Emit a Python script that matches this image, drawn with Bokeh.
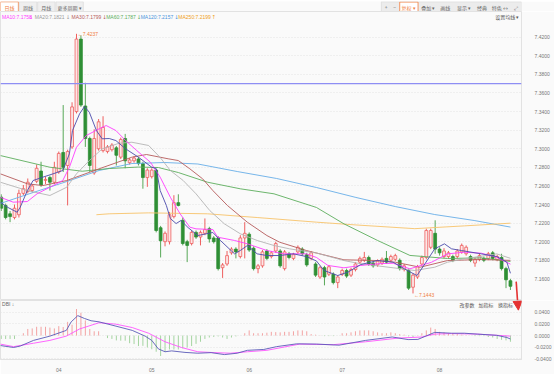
from bokeh.plotting import figure
from bokeh.layouts import column
from bokeh.models import (Range1d, FixedTicker, NumeralTickFormatter, Span, Label,
                          Arrow, NormalHead, ColumnDataSource)
from bokeh.embed import file_html
from bokeh.resources import INLINE

# ---------------- data ----------------
opens = [7.248, 7.239, 7.230, 7.226, 7.229, 7.252, 7.254, 7.255, 7.265, 7.276,
         7.266, 7.269, 7.264, 7.275, 7.296, 7.282, 7.302, 7.340, 7.418, 7.346,
         7.311, 7.274, 7.300, 7.298, 7.297, 7.299, 7.301, 7.291, 7.311, 7.285,
         7.287, 7.289, 7.284, 7.269, 7.270, 7.277, 7.215, 7.200, 7.200, 7.227,
         7.242, 7.223, 7.200, 7.198, 7.210, 7.205, 7.209, 7.214, 7.204, 7.204,
         7.172, 7.176, 7.188, 7.192, 7.184, 7.204, 7.208, 7.193, 7.171, 7.174,
         7.190, 7.184, 7.190, 7.190, 7.171, 7.187, 7.182, 7.189, 7.192, 7.186,
         7.182, 7.176, 7.162, 7.172, 7.165, 7.165, 7.156, 7.165, 7.169, 7.164,
         7.170, 7.178, 7.180, 7.183, 7.177, 7.175, 7.177, 7.182, 7.180, 7.181,
         7.180, 7.170, 7.169, 7.151, 7.162, 7.176, 7.183, 7.194, 7.209, 7.192,
         7.184, 7.184, 7.184, 7.184, 7.189, 7.187, 7.184, 7.177, 7.181, 7.182,
         7.182, 7.188, 7.181, 7.183, 7.171, 7.158]
highs = [7.251, 7.241, 7.233, 7.240, 7.256, 7.261, 7.268, 7.262, 7.283, 7.286,
         7.270, 7.271, 7.286, 7.297, 7.347, 7.299, 7.350, 7.4237, 7.422, 7.371,
         7.313, 7.321, 7.332, 7.335, 7.304, 7.306, 7.303, 7.312, 7.316, 7.290,
         7.292, 7.291, 7.286, 7.279, 7.279, 7.278, 7.217, 7.211, 7.232, 7.250,
         7.251, 7.226, 7.202, 7.212, 7.212, 7.212, 7.225, 7.216, 7.206, 7.206,
         7.177, 7.190, 7.194, 7.194, 7.207, 7.221, 7.210, 7.195, 7.176, 7.191,
         7.192, 7.190, 7.200, 7.192, 7.191, 7.189, 7.188, 7.196, 7.194, 7.188,
         7.190, 7.178, 7.174, 7.174, 7.175, 7.167, 7.164, 7.171, 7.171, 7.172,
         7.178, 7.184, 7.189, 7.185, 7.179, 7.181, 7.183, 7.190, 7.186, 7.187,
         7.182, 7.176, 7.171, 7.166, 7.175, 7.185, 7.214, 7.214, 7.223, 7.194,
         7.193, 7.190, 7.186, 7.192, 7.198, 7.196, 7.186, 7.183, 7.187, 7.184,
         7.189, 7.190, 7.186, 7.187, 7.173, 7.160]
lows = [7.233, 7.224, 7.221, 7.224, 7.226, 7.250, 7.252, 7.253, 7.263, 7.259,
        7.262, 7.255, 7.262, 7.273, 7.275, 7.239, 7.300, 7.338, 7.345, 7.302,
        7.275, 7.272, 7.298, 7.296, 7.295, 7.297, 7.282, 7.289, 7.279, 7.283,
        7.285, 7.282, 7.257, 7.259, 7.268, 7.210, 7.183, 7.195, 7.197, 7.225,
        7.238, 7.196, 7.178, 7.196, 7.203, 7.196, 7.207, 7.199, 7.198, 7.169,
        7.161, 7.174, 7.186, 7.182, 7.182, 7.182, 7.189, 7.169, 7.166, 7.172,
        7.180, 7.182, 7.188, 7.172, 7.169, 7.181, 7.180, 7.187, 7.185, 7.173,
        7.180, 7.162, 7.160, 7.153, 7.163, 7.154, 7.150, 7.163, 7.161, 7.162,
        7.168, 7.176, 7.178, 7.174, 7.172, 7.173, 7.175, 7.176, 7.178, 7.179,
        7.169, 7.168, 7.148, 7.1443, 7.160, 7.174, 7.181, 7.192, 7.187, 7.185,
        7.182, 7.182, 7.178, 7.182, 7.187, 7.185, 7.178, 7.173, 7.179, 7.178,
        7.180, 7.180, 7.179, 7.169, 7.150, 7.148]
closes = [7.236, 7.226, 7.227, 7.236, 7.252, 7.257, 7.264, 7.260, 7.279, 7.261,
          7.267, 7.264, 7.280, 7.295, 7.280, 7.297, 7.345, 7.418, 7.347, 7.311,
          7.282, 7.311, 7.329, 7.323, 7.302, 7.304, 7.293, 7.310, 7.287, 7.288,
          7.290, 7.284, 7.269, 7.277, 7.277, 7.212, 7.201, 7.209, 7.229, 7.242,
          7.239, 7.198, 7.196, 7.210, 7.205, 7.210, 7.213, 7.203, 7.200, 7.171,
          7.175, 7.185, 7.192, 7.189, 7.204, 7.209, 7.191, 7.171, 7.174, 7.189,
          7.182, 7.188, 7.198, 7.174, 7.189, 7.183, 7.186, 7.194, 7.187, 7.175,
          7.188, 7.164, 7.172, 7.162, 7.173, 7.156, 7.162, 7.169, 7.163, 7.170,
          7.176, 7.182, 7.183, 7.176, 7.174, 7.179, 7.181, 7.178, 7.184, 7.185,
          7.171, 7.174, 7.150, 7.164, 7.173, 7.183, 7.212, 7.212, 7.192, 7.188,
          7.190, 7.188, 7.180, 7.190, 7.196, 7.194, 7.180, 7.181, 7.185, 7.180,
          7.187, 7.182, 7.184, 7.171, 7.159, 7.152]

ma5_x = [-0.2, 1.4, 3.6, 4.3, 5.9, 7.2, 9.4, 11.7, 13.9, 15.4, 16.1, 17.7, 18.8, 19.9,
         21.5, 22.8, 24.4, 25.9, 28.1, 31.0, 34.0, 35.0, 35.9, 37.3, 38.2, 39.5, 40.6,
         42.2, 44.4, 47.8, 49.5, 52.7, 54.0, 55.6, 57.8, 60.0, 62.9, 66.0, 68.9, 71.2,
         72.9, 76.0, 78.3, 81.2, 85.0, 88.5, 91.7, 93.9, 95.7, 97.9, 100.1, 101.7,
         103.9, 108.4, 111.9, 114.2, 115.0]
ma5_v = [7.2425, 7.2371, 7.2317, 7.2371, 7.2550, 7.2658, 7.2694, 7.2730, 7.2766,
         7.2945, 7.3196, 7.3376, 7.3454, 7.3393, 7.3196, 7.3107, 7.3110, 7.3088,
         7.2999, 7.2909, 7.2801, 7.2787, 7.2550, 7.2389, 7.2249, 7.2195, 7.2228,
         7.2152, 7.2066, 7.2099, 7.2013, 7.1869, 7.1905, 7.1959, 7.1869, 7.1851,
         7.1851, 7.1869, 7.1840, 7.1792, 7.1690, 7.1636, 7.1672, 7.1754, 7.1797,
         7.1779, 7.1690, 7.1636, 7.1762, 7.1923, 7.1977, 7.1923, 7.1905, 7.1869,
         7.1840, 7.1779, 7.1660]
ma10_x = [-0.2, 2.7, 5.9, 8.1, 11.0, 13.9, 15.4, 17.0, 19.2, 22.1, 23.7, 25.9, 28.1,
          30.6, 33.7, 35.9, 38.2, 40.4, 42.6, 44.0, 47.8, 48.9, 52.7, 55.6, 60.0, 63.8,
          68.9, 71.2, 73.8, 77.4, 81.2, 85.0, 88.5, 92.3, 97.2, 100.8, 104.6, 108.4,
          111.9, 115.0]
ma10_v = [7.2478, 7.2425, 7.2432, 7.2515, 7.2586, 7.2658, 7.2801, 7.3016, 7.3142,
          7.3214, 7.3250, 7.3196, 7.3088, 7.2981, 7.2855, 7.2694, 7.2478, 7.2300,
          7.2156, 7.2138, 7.2131, 7.2048, 7.2013, 7.1977, 7.1905, 7.1869, 7.1869,
          7.1830, 7.1744, 7.1719, 7.1744, 7.1762, 7.1768, 7.1708, 7.1779, 7.1869,
          7.1887, 7.1876, 7.1833, 7.1758]
ma20_x = [-0.2, 5.9, 11.0, 14.8, 17.0, 19.9, 22.8, 26.6, 29.5, 33.3, 35.9, 38.2, 41.1,
          44.0, 47.1, 50.4, 54.0, 57.8, 61.6, 65.1, 71.2, 77.4, 81.2, 88.5, 93.4, 97.9,
          100.8, 104.6, 111.9, 115.0]
ma20_v = [7.2640, 7.2550, 7.2497, 7.2586, 7.2730, 7.2873, 7.2999, 7.3059, 7.3070,
          7.3035, 7.2906, 7.2766, 7.2658, 7.2515, 7.2335, 7.2192, 7.2085, 7.2013,
          7.1959, 7.1923, 7.1878, 7.1797, 7.1762, 7.1719, 7.1690, 7.1725, 7.1779,
          7.1816, 7.1869, 7.1821]
ma30_x = [-0.2, 5.9, 9.4, 14.8, 22.1, 29.5, 32.8, 37.7, 40.0, 42.6, 45.5, 47.8, 51.1,
          55.6, 60.0, 62.9, 68.9, 77.4, 85.0, 89.0, 94.6, 100.8, 108.4, 115.0]
ma30_v = [7.2730, 7.2623, 7.2604, 7.2658, 7.2784, 7.2909, 7.2938, 7.2892, 7.2873,
          7.2784, 7.2676, 7.2550, 7.2389, 7.2209, 7.2066, 7.1994, 7.1905, 7.1805,
          7.1797, 7.1779, 7.1725, 7.1797, 7.1808, 7.1799]
ma60_x = [-0.2, 11.0, 18.3, 24.4, 31.0, 35.5, 40.0, 46.6, 54.0, 61.6, 71.2, 77.4, 85.0,
          92.3, 100.8, 108.4, 115.0]
ma60_v = [7.2927, 7.2801, 7.2758, 7.2787, 7.2803, 7.2798, 7.2744, 7.2640, 7.2569,
          7.2515, 7.2368, 7.2192, 7.2013, 7.1852, 7.1819, 7.1826, 7.1787]
ma120_x = [-0.2, 7.2, 14.8, 22.1, 29.5, 37.0, 44.4, 53.3, 62.2, 71.2, 80.1, 89.0, 97.9,
           106.8, 115.0]
ma120_v = [7.2411, 7.2529, 7.2647, 7.2766, 7.2841, 7.2852, 7.2836, 7.2755, 7.2680,
           7.2583, 7.2476, 7.2378, 7.2292, 7.2228, 7.2157]
ma250_x = [21.5, 24.4, 33.3, 46.6, 57.8, 71.2, 80.1, 93.4, 104.6, 115.0]
ma250_v = [7.229, 7.230, 7.231, 7.230, 7.226, 7.221, 7.218, 7.214, 7.217, 7.2199]

hist = [-0.0059, -0.0059, -0.0059, -0.0059, 0.0, 0.0040, 0.0114, 0.0123, 0.0152, 0.0152,
        0.0152, 0.0138, 0.0123, 0.0163, 0.0148, 0.0237, 0.0188, 0.0459, 0.0395, 0.0262,
        0.0114, 0.0074, 0.0074, 0.0, -0.0044, -0.0059, -0.0084, -0.0089, -0.0089, -0.0133,
        -0.0148, -0.0182, -0.0178, -0.0207, -0.0237, -0.0281, -0.0355, -0.0281, -0.0241, -0.0241,
        -0.0241, -0.0222, -0.0207, -0.0182, -0.0144, -0.0108, -0.0059, -0.0034, -0.0025, -0.0015,
        -0.0034, -0.0059, -0.0034, -0.0015, 0.0, 0.0040, 0.0089, 0.0040, 0.0040, 0.0040,
        0.0049, 0.0064, 0.0059, 0.0055, 0.0064, 0.0064, 0.0074, 0.0089, 0.0089, 0.0074,
        0.0025, 0.0015, 0.0004, -0.0010, -0.0010, -0.0010, 0.0, 0.0040, 0.0040, 0.0055,
        0.0074, 0.0089, 0.0089, 0.0089, 0.0074, 0.0055, 0.0040, 0.0040, 0.0055, 0.0040,
        0.0025, 0.0015, -0.0015, -0.0025, 0.0004, 0.0040, 0.0089, 0.0138, 0.0114, 0.0064,
        0.0055, 0.0040, 0.0030, 0.0025, 0.0015, 0.0004, 0.0, -0.0010, -0.0010, -0.0010,
        -0.0025, -0.0034, -0.0059, -0.0074, -0.0084, -0.0108]
dif_x = [-0.2, 2.8, 4.3, 7.3, 11.0, 14.7, 15.8, 17.3, 18.8, 20.3, 22.1, 25.9, 29.6, 32.5,
         34.0, 35.5, 37.0, 38.5, 41.5, 44.4, 47.4, 50.4, 53.3, 55.6, 59.3, 62.2, 66.7,
         71.2, 76.3, 82.3, 88.3, 91.9, 94.1, 97.9, 101.7, 104.6, 107.5, 111.9, 114.2, 115.0]
dif_v = [-0.0173, -0.0207, -0.0182, -0.0084, -0.0010, 0.0089, 0.0237, 0.0345, 0.0296,
         0.0256, 0.0237, 0.0163, 0.0089, -0.0010, -0.0084, -0.0232, -0.0281, -0.0266,
         -0.0292, -0.0306, -0.0296, -0.0330, -0.0306, -0.0256, -0.0241, -0.0192, -0.0144,
         -0.0148, -0.0167, -0.0084, -0.0025, -0.0070, -0.0067, 0.0055, 0.0040, 0.0040,
         0.0025, 0.0004, -0.0034, -0.0060]
dea_x = [-0.2, 2.8, 7.3, 11.0, 14.7, 17.7, 22.1, 25.9, 29.6, 33.3, 37.0, 40.7, 44.4,
         48.1, 51.8, 55.6, 60.0, 67.4, 75.0, 82.3, 89.7, 95.0, 97.9, 101.7, 107.5, 111.9,
         115.0]
dea_v = [-0.0148, -0.0192, -0.0133, -0.0084, -0.0010, 0.0114, 0.0222, 0.0197, 0.0138,
         0.0040, -0.0108, -0.0207, -0.0281, -0.0296, -0.0306, -0.0281, -0.0256, -0.0148,
         -0.0158, -0.0108, -0.0044, -0.0025, 0.0025, 0.0034, 0.0025, 0.0004, -0.0010]

price_ticks = [7.16, 7.18, 7.20, 7.22, 7.24, 7.26, 7.28, 7.30, 7.32, 7.34, 7.36, 7.38,
               7.40, 7.42]
macd_ticks = [0.04, 0.02, 0.0, -0.02, -0.04]
month_ticks = [13, 34, 56, 77, 99]
month_labels = ["04", "05", "06", "07", "08"]

ma_names = ["MA10:7.1758", "MA20:7.1821", "MA30:7.1799", "MA60:7.1787", "MA120:7.2157", "MA250:7.2199"]
ma_arrows = ["↓", "↓", "↓", "↓", "↓", "↑"]
high_text = "7.4237"
low_text = "7.1443"
hline_level = 7.370

# ---------------- style ----------------
W = 554
BG = "#fafafa"
FONT = "Liberation Sans"
CJK = "Noto Sans CJK SC"
RED = "#ee5f5f"
GREEN = "#2f8f35"
C_MA5 = "#4b4bab"
C_MA10 = "#ff3cff"
C_MA20 = "#b4b4b4"
C_MA30 = "#b65a5a"
C_MA60 = "#5cae5c"
C_MA120 = "#68aee8"
C_MA250 = "#f7c36a"
ORANGE = "#f07c3c"
ARROW_RED = "#e53333"

xr = Range1d(-0.16, 117.5)


def base(fig):
    fig.background_fill_color = BG
    fig.border_fill_color = BG
    fig.outline_line_color = "#e2e2e2"
    return fig


# ---------------- header ----------------
hdr = figure(width=W, height=11, x_range=Range1d(0, 554), y_range=Range1d(11, 0),
             toolbar_location=None, output_backend="svg", min_border=0,
             x_axis_location=None, y_axis_location=None)
base(hdr)
hdr.outline_line_color = None
hdr.grid.visible = False
tab_l = [0, 20, 39.5, 59]
tab_r = [19, 38.5, 58, 88]
tab_t = ["日线", "周线", "月线", "更多周期 ▾"]
hdr.quad(left=tab_l, right=tab_r, top=[0.3] * 4, bottom=[10.7] * 4,
         fill_color=["#ffffff", "#efefef", "#efefef", "#efefef"],
         line_color=[ORANGE, "#dcdcdc", "#dcdcdc", "#dcdcdc"], line_width=0.8)
for l, r, t, i in zip(tab_l, tab_r, tab_t, range(4)):
    hdr.add_layout(Label(x=(l + r) / 2, y=5.5, text=t, text_align="center",
                         text_baseline="middle", text_font=CJK, text_font_size="5px",
                         text_color=ORANGE if i == 0 else "#666666"))
hdr.quad(left=[405], right=[554], top=[0.3], bottom=[10.7], fill_color="#ececec",
         line_color="#dcdcdc", line_width=0.8)
hdr.quad(left=[424.5], right=[444], top=[0.6], bottom=[10.4], fill_color="#ffffff",
         line_color=ORANGE, line_width=0.8)
tools = [("+", 410), ("−", 419), ("复权 ▾", 434), ("叠加 ▾", 455), ("画线", 473),
         ("显示 ▾", 493), ("经典", 512), ("特色 ↔", 531), ("⤢", 548)]
for t, xc in tools:
    hdr.add_layout(Label(x=xc, y=5.5, text=t, text_align="center", text_baseline="middle",
                         text_font=CJK, text_font_size="5px",
                         text_color=ORANGE if t.startswith("复权") else "#666666"))

# ---------------- main candles ----------------
main = figure(width=W, height=289, x_range=xr, y_range=Range1d(7.1367, 7.4477),
              toolbar_location=None, output_backend="svg", min_border_left=0,
              min_border_right=26, min_border_top=0, min_border_bottom=0,
              x_axis_location=None, y_axis_location="right")
base(main)
main.xgrid.visible = False
main.ygrid.ticker = FixedTicker(ticks=price_ticks)
main.ygrid.grid_line_color = "#e4e4e4"
main.ygrid.grid_line_dash = "1 2"
ya = main.yaxis[0]
ya.ticker = FixedTicker(ticks=price_ticks)
ya.formatter = NumeralTickFormatter(format="0.0000")
ya.major_tick_line_color = None
ya.minor_tick_line_color = None
ya.axis_line_color = "#e2e2e2"
ya.major_label_standoff = 7
ya.major_label_text_font = FONT
ya.major_label_text_font_size = "5px"
ya.major_label_text_color = "#777777"

idx = list(range(len(closes)))
is_up = [c >= o for o, c in zip(opens, closes)]
src = ColumnDataSource(dict(
    x=idx, h=highs, l=lows,
    top=[max(o, c) for o, c in zip(opens, closes)],
    bot=[min(o, c) for o, c in zip(opens, closes)],
    wick=[RED if u else "#58a858" for u in is_up],
    fill=["#fde6e6" if u else GREEN for u in is_up],
    line=[RED if u else GREEN for u in is_up],
))
main.add_layout(Span(location=hline_level, dimension="width", line_color="#8e8ef4",
                     line_width=1.2))
main.segment(x0="x", y0="h", x1="x", y1="l", line_color="wick", line_width=1, source=src)
main.vbar(x="x", width=0.64, top="top", bottom="bot", fill_color="fill", line_color="line",
          line_width=0.8, source=src)

for xs, vs, col in [(ma120_x, ma120_v, C_MA120), (ma250_x, ma250_v, C_MA250),
                    (ma60_x, ma60_v, C_MA60), (ma30_x, ma30_v, C_MA30),
                    (ma20_x, ma20_v, C_MA20), (ma10_x, ma10_v, C_MA10),
                    (ma5_x, ma5_v, C_MA5)]:
    main.line(xs, vs, line_color=col, line_width=0.9)

# legend row
leg_cols = [C_MA10, "#9a9a9a", C_MA30, C_MA60, "#4a94dc", "#f0a020"]
leg_x = [0.2, 7.6, 15.9, 23.7, 31.5, 40.0]
arr_x = [6.2, 14.55, 22.8, 30.6, 39.1, 47.5]
LEG_Y = 7.4420
for name, ar, col, lx, axp in zip(ma_names, ma_arrows, leg_cols, leg_x, arr_x):
    main.add_layout(Label(x=lx, y=LEG_Y, text=name, text_baseline="middle",
                          text_font=FONT, text_font_size="5px", text_color=col))
    main.add_layout(Label(x=axp, y=LEG_Y, text=ar, text_baseline="middle",
                          text_font="DejaVu Sans", text_font_size="5.5px", text_color=col))
main.add_layout(Label(x=117.0, y=LEG_Y, text="设置均线 ▾", text_align="right",
                      text_baseline="middle", text_font=CJK, text_font_size="5px",
                      text_color="#555555"))
# high / low markers
main.add_layout(Label(x=17.3, y=highs[17], text="←" + high_text, text_baseline="middle",
                      text_font=FONT, text_font_size="5px", text_color=ORANGE))
main.add_layout(Label(x=93.2, y=lows[93], y_offset=-2, text="←" + low_text,
                      text_baseline="middle", text_font=FONT, text_font_size="5px",
                      text_color=ORANGE))
# red hand-drawn arrow (shaft in price panel, head in indicator panel)
main.add_layout(Arrow(end=None, x_start=116.3, y_start=7.157, x_end=116.6, y_end=7.1367,
                      line_color=ARROW_RED, line_width=1.6))

# ---------------- MACD panel ----------------
macd = figure(width=W, height=74, x_range=xr, y_range=Range1d(-0.0415, 0.0607),
              toolbar_location=None, output_backend="svg", min_border_left=0,
              min_border_right=26, min_border_top=0, min_border_bottom=0,
              y_axis_location="right")
base(macd)
macd.xgrid.visible = False
macd.ygrid.ticker = FixedTicker(ticks=macd_ticks)
macd.ygrid.grid_line_color = "#e4e4e4"
macd.ygrid.grid_line_dash = "1 2"
my = macd.yaxis[0]
my.ticker = FixedTicker(ticks=macd_ticks)
my.formatter = NumeralTickFormatter(format="0.0000")
my.major_tick_line_color = None
my.minor_tick_line_color = None
my.axis_line_color = "#e2e2e2"
my.major_label_standoff = 7
my.major_label_text_font = FONT
my.major_label_text_font_size = "5px"
my.major_label_text_color = "#777777"
mx = macd.xaxis[0]
mx.ticker = FixedTicker(ticks=month_ticks)
mx.major_label_overrides = {t: s for t, s in zip(month_ticks, month_labels)}
mx.major_tick_line_color = None
mx.minor_tick_line_color = None
mx.axis_line_color = "#e2e2e2"
mx.major_label_standoff = 2
mx.major_label_text_font = FONT
mx.major_label_text_font_size = "5px"
mx.major_label_text_color = "#777777"

hsrc = ColumnDataSource(dict(x=idx, y0=[0] * len(hist), y1=hist,
                             c=["#f3a3a3" if v >= 0 else "#a4d4a0" for v in hist]))
macd.segment(x0="x", y0="y0", x1="x", y1="y1", line_color="c", line_width=1, source=hsrc)
macd.line(dea_x, dea_v, line_color="#ff55ff", line_width=0.9)
macd.line(dif_x, dif_v, line_color="#5a5ab8", line_width=0.9)
macd.add_layout(Label(x=0.2, y=0.0540, text="DBI ↓", text_baseline="middle",
                      text_font=FONT, text_font_size="5px", text_color="#666666"))
for t, xc in [("改参数", 103.5), ("加指标", 107.8), ("换指标", 112.2)]:
    macd.add_layout(Label(x=xc, y=0.0540, text=t, text_baseline="middle",
                          text_font=CJK, text_font_size="5px", text_color="#555555"))
macd.add_layout(Arrow(end=NormalHead(size=9, fill_color=ARROW_RED, line_color=ARROW_RED),
                      x_start=116.6, y_start=0.0607, x_end=116.8, y_end=0.044,
                      line_color=ARROW_RED, line_width=1.6))

layout = column(hdr, main, macd, spacing=0)
open("out.html", "w").write(file_html(layout, INLINE))
